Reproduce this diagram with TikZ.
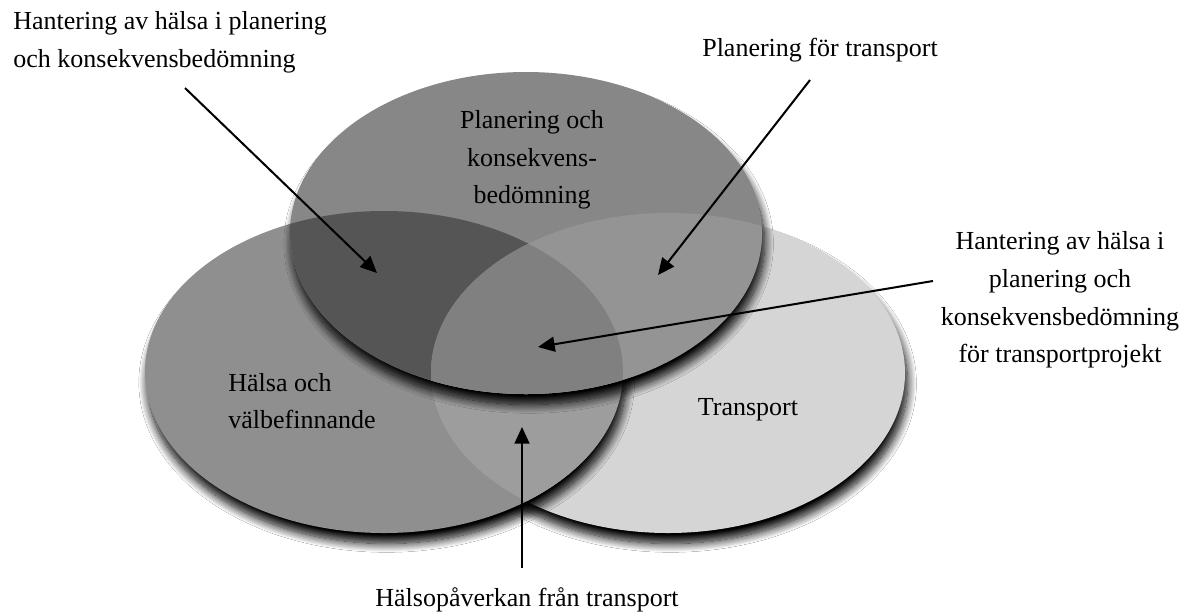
\documentclass[tikz,border=0pt]{standalone}
\usepackage{fontspec}
\setmainfont{Liberation Serif}
\usetikzlibrary{arrows.meta,shadows.blur}
\definecolor{planfill}{HTML}{878787}
\definecolor{halsafill}{HTML}{8F8F8F}
\definecolor{transfill}{HTML}{D5D5D5}
\definecolor{planhalsa}{HTML}{555555}
\definecolor{plantrans}{HTML}{949494}
\definecolor{halsatrans}{HTML}{9D9D9D}
\definecolor{allthree}{HTML}{808080}

\newcommand{\planell}{(plan) ellipse [x radius=236, y radius=161]}
\newcommand{\halsaell}{(halsa) ellipse [x radius=239, y radius=161]}
\newcommand{\transell}{(trans) ellipse [x radius=237, y radius=160]}

\tikzset{
  lbl/.style={font=\fontsize{14.8}{21.5}\selectfont,inner sep=0pt},
  conn/.style={-{Triangle[length=9.5pt,width=8.5pt,fill=black]},line width=1.15pt},
  shade/.style={blur shadow={shadow xshift=1.5pt,shadow yshift=-6pt,shadow blur radius=5pt,shadow blur steps=14,shadow opacity=100}}
}

\begin{document}
\begin{tikzpicture}[x=0.02cm,y=0.02cm]
\fill[white] (0,0) rectangle (1184,-613);
\useasboundingbox (0,0) rectangle (1184,-613);

\coordinate (plan) at (526,-233);
\coordinate (halsa) at (384,-372);
\coordinate (trans) at (668,-373);

% transport underneath, then halsa, then planering on top
\path[shade] \transell;
\fill[transfill] \transell;
\path[shade] \halsaell;
\fill[halsafill] \halsaell;
\begin{scope}
  \clip \halsaell;
  \fill[halsatrans] \transell;
\end{scope}
\path[shade] \planell;
\fill[planfill] \planell;
\begin{scope}
  \clip \planell;
  \fill[planhalsa] \halsaell;
  \fill[plantrans] \transell;
  \clip \halsaell;
  \fill[allthree] \transell;
\end{scope}

% texts
\node[lbl,align=left,anchor=west] (planhalsalbl) at (13,-42) {Hantering av hälsa i planering\\och konsekvensbedömning};
\node[lbl] (plantranslbl) at (820,-50) {Planering för transport};
\node[lbl,align=center] (planlbl) at (532,-160) {Planering och\\konsekvens-\\bedömning};
\node[lbl,align=center] (alllbl) at (1060,-300) {Hantering av hälsa i\\planering och\\konsekvensbedömning\\för transportprojekt};
\node[lbl,align=left,anchor=west] (halsalbl) at (228,-401) {Hälsa och\\välbefinnande};
\node[lbl] (translbl) at (748,-410) {Transport};
\node[lbl] (halsatranslbl) at (527,-600) {Hälsopåverkan från transport};

% arrows
\coordinate (s1) at (185,-88);
\coordinate (t1) at (377,-273);
\coordinate (s2) at (810,-80);
\coordinate (t2) at (658,-275);
\coordinate (s3) at (933,-281);
\coordinate (t3) at (538,-347);
\coordinate (s4) at (522,-568);
\coordinate (t4) at (522,-427);
\draw[conn] (s1) -- (t1);
\draw[conn] (s2) -- (t2);
\draw[conn] (s3) -- (t3);
\draw[conn] (s4) -- (t4);
\end{tikzpicture}
\end{document}
